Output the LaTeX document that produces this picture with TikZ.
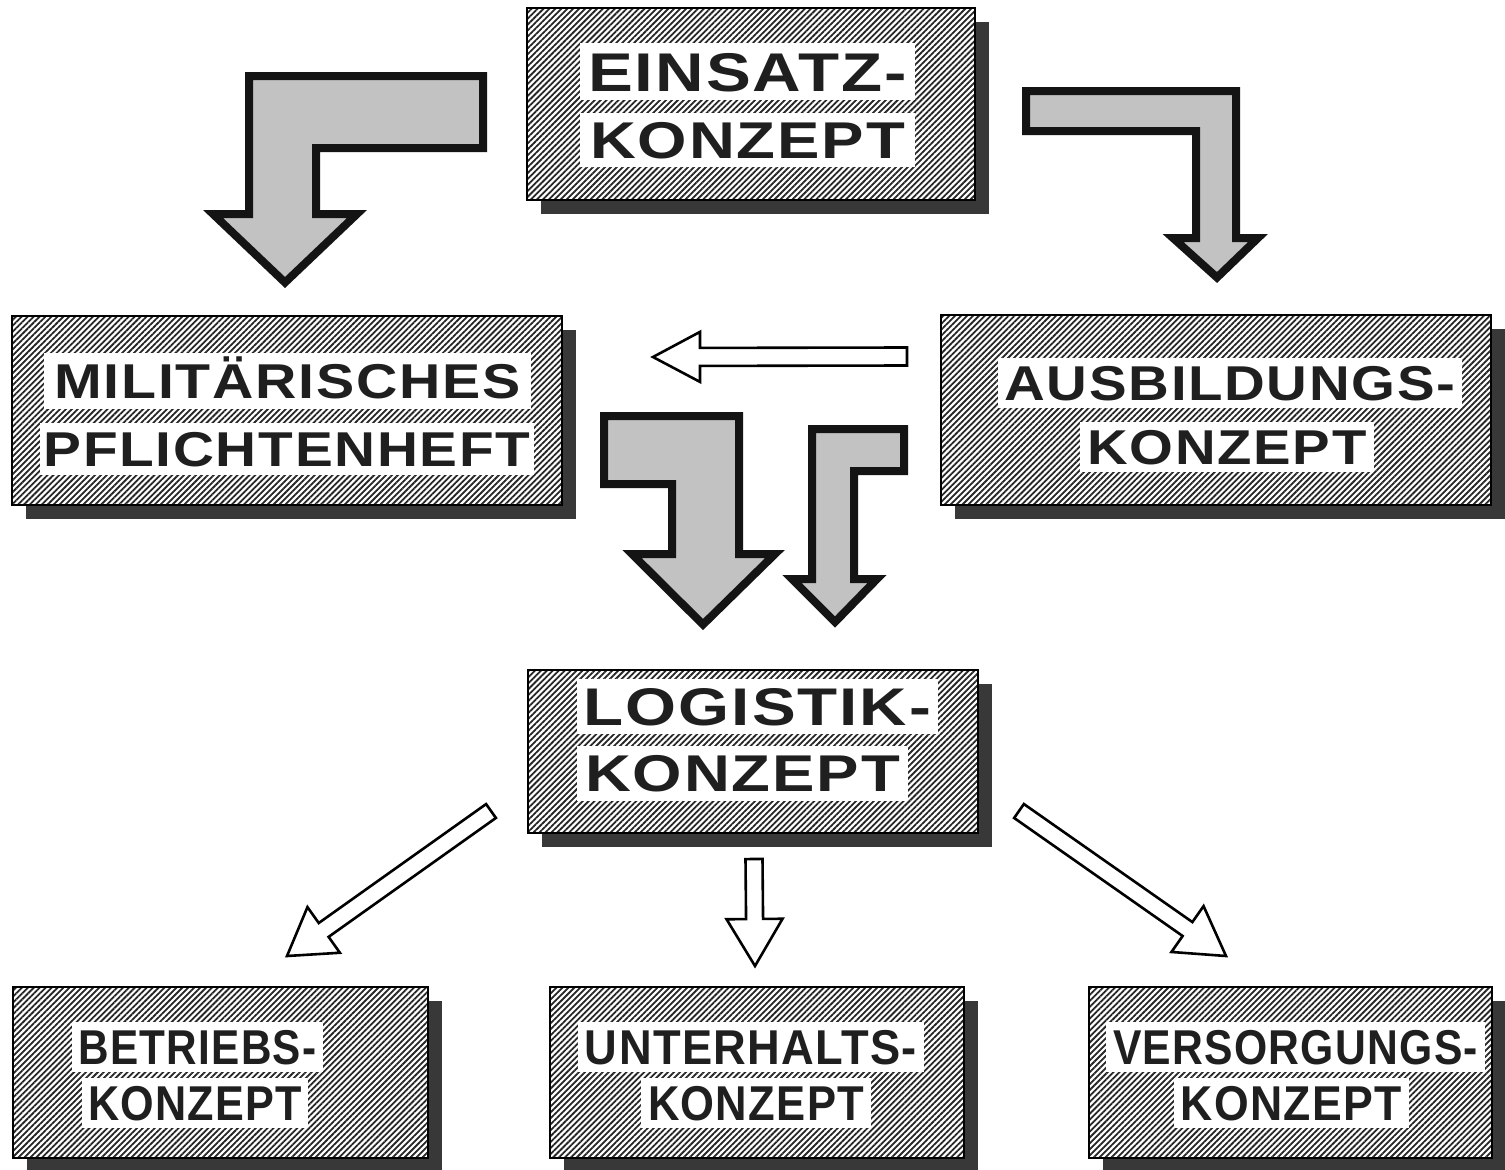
\documentclass[tikz,border=0pt]{standalone}
\usepackage{fontspec}
\usepackage{graphicx}
\usetikzlibrary{calc,patterns.meta,shadows}
\newfontfamily\lblfont{Liberation Sans}[LetterSpace=3]
\newcommand\lbl[3]{\resizebox{#1pt}{\height}{\lblfont\bfseries\fontsize{#2pt}{#2pt}\selectfont #3}}
\newcommand\openarr[5]{%
  \coordinate (#1h) at ($(#2)!#5pt!(#1)$);
  \draw[openarrow] ($(#1)!#3pt!90:(#2)$) -- ($(#1h)!#3pt!90:(#2)$) -- ($(#1h)!#4pt!90:(#2)$) -- (#2)
     -- ($(#1h)!#4pt!-90:(#2)$) -- ($(#1h)!#3pt!-90:(#2)$) -- ($(#1)!#3pt!-90:(#2)$) -- cycle;}
\tikzset{
  box/.style={drop shadow={shadow xshift=14pt, shadow yshift=-14pt, fill=black!78, opacity=1},
    preaction={fill=white}, draw=black, line width=2.4pt,
    pattern={Lines[angle=45,distance=4.2pt,line width=1.8pt]}, pattern color=black!85, inner sep=0pt},
  strip/.style={fill=white, inner sep=0pt, text depth=0pt, text=black!88},
  bigarrow/.style={draw=black!92, line width=8pt, line join=miter, fill=black!24},
  openarrow/.style={draw=black, line width=2.6pt, line join=miter, fill=white},
}
\begin{document}
\begin{tikzpicture}[x=1pt,y=-1pt]
\useasboundingbox[fill=white] (0,0) rectangle (1505,1170);

% boxes
\node[box, minimum width=448pt, minimum height=192pt] (einsatz) at (751,104) {};
\node[box, minimum width=550pt, minimum height=189pt] (milit) at (287,410.5) {};
\node[box, minimum width=550pt, minimum height=190pt] (ausb) at (1216,410) {};
\node[box, minimum width=450pt, minimum height=163pt] (logist) at (753,751.5) {};
\node[box, minimum width=415pt, minimum height=171pt] (betr) at (220.5,1072.5) {};
\node[box, minimum width=414pt, minimum height=171pt] (unterh) at (757,1072.5) {};
\node[box, minimum width=403pt, minimum height=171pt] (versorg) at (1290.5,1072.5) {};

% text strips
\node[strip, minimum width=335pt, minimum height=57pt, text height=39pt] (e1) at (747.5,71.5) {\lbl{319}{54.5}{EINSATZ-}};
\node[strip, minimum width=335pt, minimum height=54pt, text height=37pt] (e2) at (747.5,140) {\lbl{315}{51.7}{KONZEPT}};
\node[strip, minimum width=487pt, minimum height=56pt, text height=35pt] (m1) at (287.5,381) {\lbl{466}{48.9}{MILITÄRISCHES}};
\node[strip, minimum width=494pt, minimum height=52pt, text height=35pt] (m2) at (287,449) {\lbl{487}{48.9}{PFLICHTENHEFT}};
\node[strip, minimum width=464pt, minimum height=50pt, text height=35pt] (a1) at (1230,382.5) {\lbl{451}{48.9}{AUSBILDUNGS-}};
\node[strip, minimum width=294pt, minimum height=50pt, text height=35pt] (a2) at (1227,446.5) {\lbl{279}{48.9}{KONZEPT}};
\node[strip, minimum width=361pt, minimum height=55pt, text height=38pt] (l1) at (757.5,706) {\lbl{347}{53}{LOGISTIK-}};
\node[strip, minimum width=331pt, minimum height=55pt, text height=37pt] (l2) at (742.5,773) {\lbl{315}{51.7}{KONZEPT}};
\node[strip, minimum width=251pt, minimum height=50pt, text height=35pt] (b1) at (197.5,1047) {\lbl{238}{48.9}{BETRIEBS-}};
\node[strip, minimum width=226pt, minimum height=50pt, text height=35pt] (b2) at (195,1102.5) {\lbl{214}{48.9}{KONZEPT}};
\node[strip, minimum width=346pt, minimum height=50pt, text height=35pt] (u1) at (751,1047) {\lbl{332}{48.9}{UNTERHALTS-}};
\node[strip, minimum width=230pt, minimum height=50pt, text height=35pt] (u2) at (756,1102.5) {\lbl{216}{48.9}{KONZEPT}};
\node[strip, minimum width=379pt, minimum height=50pt, text height=35pt] (v1) at (1295.5,1047) {\lbl{365}{48.9}{VERSORGUNGS-}};
\node[strip, minimum width=235pt, minimum height=50pt, text height=35pt] (v2) at (1291,1102.5) {\lbl{221}{48.9}{KONZEPT}};

% big shaded arrows
\draw[bigarrow] (249,76) -- (483,76) -- (483,148) -- (316,148) -- (316,214) -- (357,214) -- (285,282.5) -- (213,214) -- (249,214) -- cycle;
\draw[bigarrow] (1026,91) -- (1236,91) -- (1236,238) -- (1258,238) -- (1217,277.5) -- (1173,238) -- (1196,238) -- (1196,131) -- (1026,131) -- cycle;
\draw[bigarrow] (604,416) -- (739,416) -- (739,554) -- (775,554) -- (703,624.5) -- (632,554) -- (672,554) -- (672,484) -- (604,484) -- cycle;
\draw[bigarrow] (812,429) -- (904,429) -- (904,471) -- (854,471) -- (854,579) -- (877,579) -- (835,622) -- (792,579) -- (812,579) -- cycle;

% open arrows
\coordinate (ht) at (907,356.5); \coordinate (hp) at (653,357);
\openarr{ht}{hp}{9}{25}{47}
\coordinate (dt) at (754,859); \coordinate (dp) at (755,966);
\openarr{dt}{dp}{8.5}{28}{47}
\coordinate (lt) at (491,811); \coordinate (lp) at (287,956);
\openarr{lt}{lp}{8.5}{28}{45}
\coordinate (rt) at (1019,811); \coordinate (rp) at (1226,956);
\openarr{rt}{rp}{8.5}{28}{47}
\end{tikzpicture}
\end{document}
